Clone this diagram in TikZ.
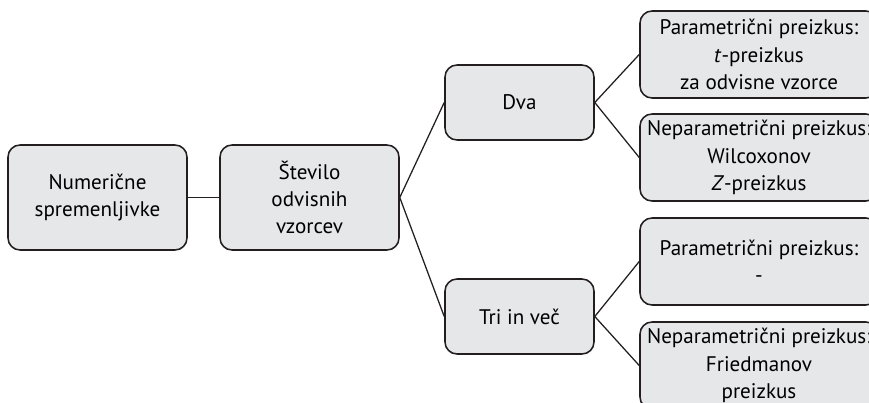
\documentclass[tikz,border=0pt]{standalone}
\usepackage{fontspec}
\setmainfont{PT Sans}
\usepackage{xcolor}
\usepackage{tikz}
\usetikzlibrary{positioning}
\definecolor{boxgray}{RGB}{230,231,232}
\definecolor{darkline}{RGB}{35,31,32}
\tikzset{
  stepbox/.style={rectangle,rounded corners=0.3cm,draw=darkline,fill=boxgray,line width=1.1pt,
    align=center,font=\fontsize{15}{19.5}\selectfont,inner sep=0pt},
  link/.style={line width=0.9pt,draw=darkline}
}
\begin{document}
\begin{tikzpicture}[
  bigbox/.style={stepbox,minimum width=4.475cm,minimum height=2.625cm},
  midbox/.style={stepbox,minimum width=3.725cm,minimum height=1.875cm},
  testbox/.style={stepbox,minimum width=5.95cm,minimum height=2.175cm}
]

  \useasboundingbox (0,0) rectangle (21.725,-10.075);
  \clip (0,0) rectangle (21.725,-10.075);

  \node[bigbox] (numvar)  at (2.4375,-4.9375) {Numerične\\spremenljivke};
  \node[bigbox] (stevilo) at (7.7375,-4.9375) {Število\\odvisnih\\vzorcev};

  \node[midbox] (dva) at (12.9875,-2.5625) {Dva};
  \node[midbox] (tri) at (12.9875,-7.9125) {Tri in več};

  \node[testbox] (parDva)   at (18.975,-1.3625) {Parametrični preizkus:\\\textit{t}-preizkus\\za odvisne vzorce};
  \node[testbox] (neparDva) at (18.975,-3.9375) {Neparametrični preizkus:\\Wilcoxonov\\\textit{Z}-preizkus};
  \node[testbox] (parTri)   at (18.975,-6.5375) {Parametrični preizkus:\\-};
  \node[testbox] (neparTri) at (18.975,-9.1375) {Neparametrični preizkus:\\Friedmanov\\preizkus};

  \draw[link] (numvar.east)--(stevilo.west);
  \draw[link] (stevilo.east)--(dva.west);
  \draw[link] (stevilo.east)--(tri.west);

  \draw[link] (dva.east)--(parDva.west);
  \draw[link] (dva.east)--(neparDva.west);
  \draw[link] (tri.east)--(parTri.west);
  \draw[link] (tri.east)--(neparTri.west);

\end{tikzpicture}
\end{document}
